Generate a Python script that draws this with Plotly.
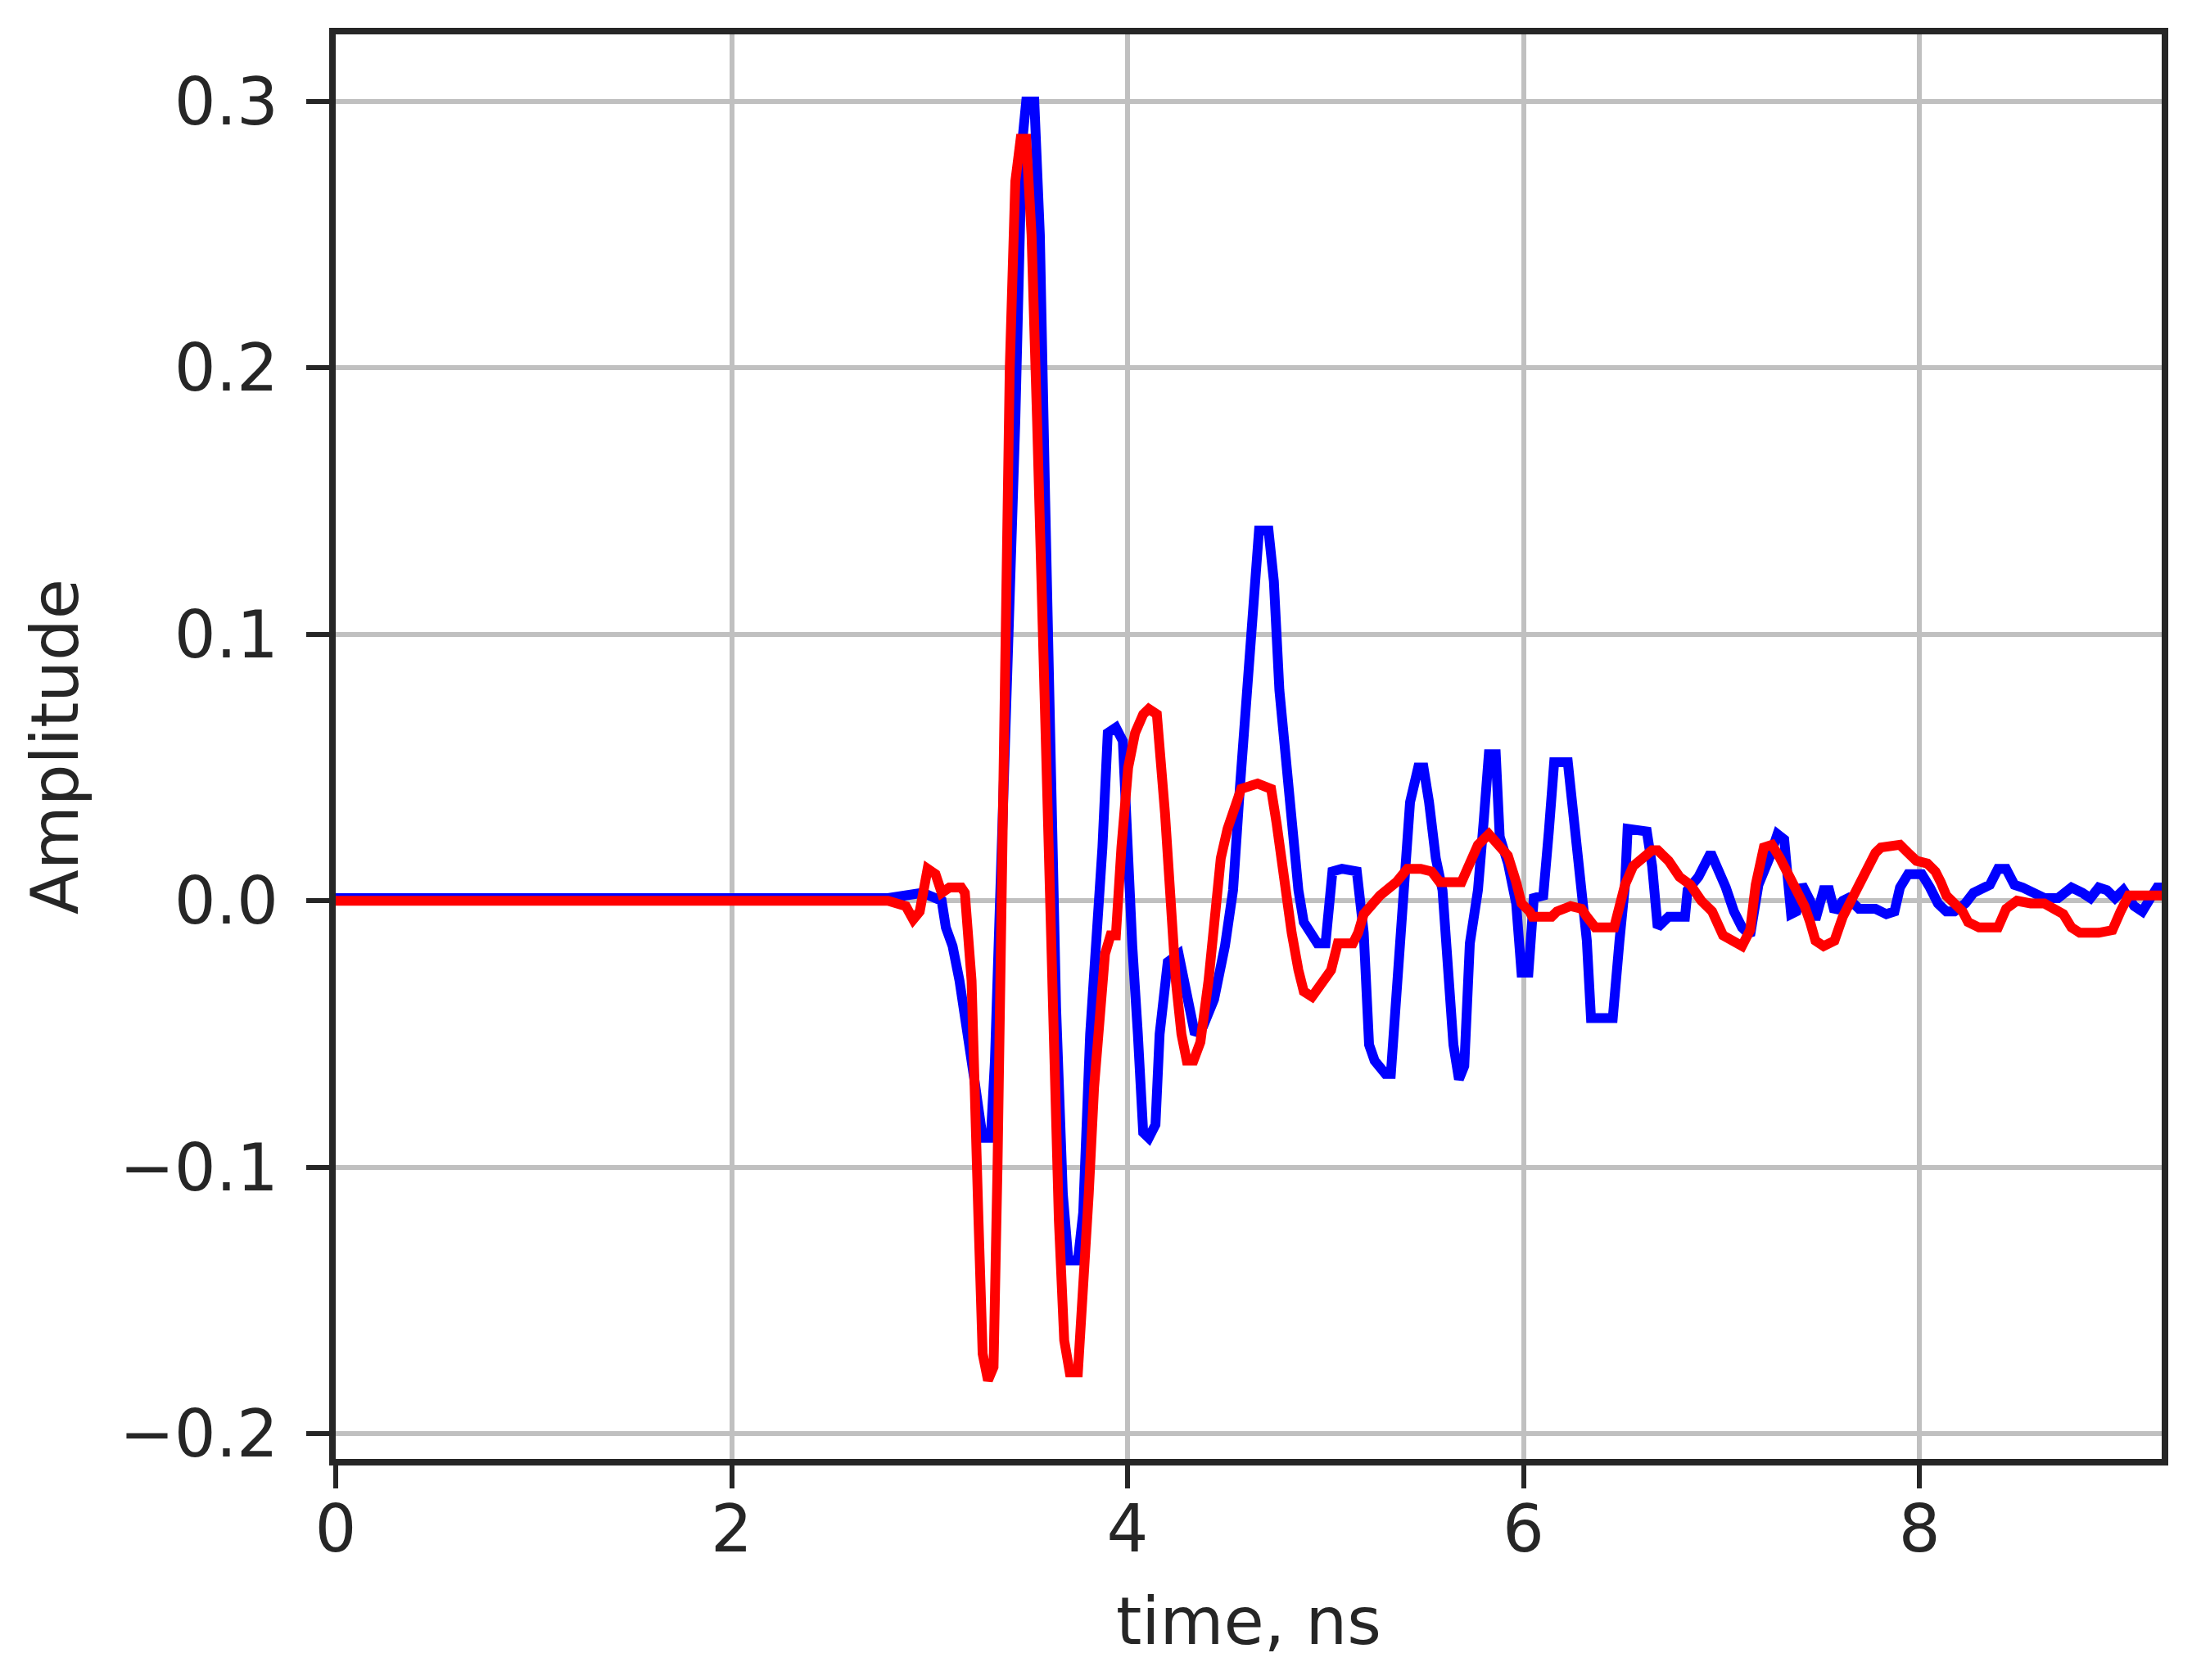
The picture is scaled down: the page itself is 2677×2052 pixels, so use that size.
import plotly.graph_objects as go

# ---- data (time in ns, amplitude) ----
blue_t = [0.0, 2.79, 2.965, 3.006, 3.061, 3.082, 3.116, 3.151, 3.185, 3.226, 3.268, 3.309, 3.330,
          3.364, 3.391, 3.433, 3.467, 3.488, 3.529, 3.557, 3.584, 3.611, 3.639, 3.673, 3.701, 3.749,
          3.776, 3.811, 3.845, 3.873, 3.900, 3.941, 3.976, 3.997, 4.024, 4.052, 4.079, 4.107, 4.141,
          4.162, 4.203, 4.258, 4.299, 4.340, 4.382, 4.437, 4.492, 4.533, 4.567, 4.602, 4.643, 4.664,
          4.712, 4.739, 4.767, 4.801, 4.835, 4.863, 4.890, 4.959, 5.000, 5.035, 5.083, 5.158, 5.193,
          5.220, 5.248, 5.303, 5.330, 5.365, 5.399, 5.427, 5.468, 5.495, 5.523, 5.557, 5.591, 5.619,
          5.646, 5.674, 5.701, 5.729, 5.770, 5.798, 5.825, 5.860, 5.880, 5.922, 5.963, 5.990, 6.025,
          6.052, 6.100, 6.128, 6.155, 6.224, 6.252, 6.293, 6.320, 6.341, 6.451, 6.485, 6.513, 6.526,
          6.623, 6.650, 6.678, 6.733, 6.816, 6.829, 6.884, 6.946, 6.980, 7.022, 7.063, 7.104, 7.145,
          7.187, 7.242, 7.283, 7.317, 7.338, 7.352, 7.379, 7.407, 7.448, 7.475, 7.516, 7.544, 7.571,
          7.613, 7.640, 7.695, 7.778, 7.833, 7.874, 7.902, 7.943, 8.012, 8.053, 8.094, 8.136, 8.177,
          8.232, 8.273, 8.356, 8.397, 8.438, 8.480, 8.521, 8.576, 8.631, 8.700, 8.768, 8.823, 8.864,
          8.906, 8.947, 8.988, 9.030, 9.085, 9.126, 9.167, 9.201, 9.229]
blue_v = [0.001, 0.001, 0.003, 0.002, 0.000, -0.010, -0.017, -0.030, -0.050, -0.067, -0.089, -0.089, -0.060,
          0.020, 0.060, 0.180, 0.284, 0.300, 0.300, 0.250, 0.150, 0.050, -0.040, -0.110, -0.135, -0.135,
          -0.117, -0.050, -0.017, 0.020, 0.063, 0.065, 0.060, 0.017, -0.017, -0.050, -0.087, -0.089, -0.084,
          -0.050, -0.023, -0.020, -0.033, -0.050, -0.047, -0.037, -0.017, 0.004, 0.042, 0.079, 0.128, 0.139,
          0.139, 0.120, 0.079, 0.049, 0.029, 0.004, -0.008, -0.016, -0.016, 0.011, 0.012, 0.011, -0.012,
          -0.054, -0.060, -0.065, -0.065, -0.029, 0.012, 0.037, 0.050, 0.050, 0.037, 0.016, 0.004, -0.029,
          -0.054, -0.067, -0.062, -0.016, 0.004, 0.029, 0.055, 0.055, 0.024, 0.014, -0.001, -0.027, -0.027,
          0.001, 0.002, 0.026, 0.052, 0.052, 0.031, 0.006, -0.015, -0.044, -0.044, -0.015, 0.006, 0.027,
          0.026, 0.013, -0.010, -0.006, -0.006, 0.004, 0.009, 0.018, 0.013, 0.005, -0.004, -0.010, -0.013,
          0.006, 0.016, 0.025, 0.023, 0.006, -0.005, -0.004, 0.006, 0.000, -0.007, 0.004, 0.004, -0.004,
          0.000, 0.001, -0.003, -0.003, -0.005, -0.004, 0.005, 0.010, 0.010, 0.005, -0.001, -0.004, -0.004,
          -0.001, 0.003, 0.006, 0.012, 0.012, 0.006, 0.005, 0.003, 0.001, 0.001, 0.005, 0.003, 0.001,
          0.005, 0.004, 0.001, 0.004, -0.002, -0.004, 0.001, 0.005, 0.005]

red_t = [0.0, 2.79, 2.88, 2.917, 2.95, 2.99, 3.03, 3.061, 3.10, 3.16, 3.178, 3.212, 3.247, 3.268, 3.295,
         3.323, 3.343, 3.364, 3.384, 3.405, 3.433, 3.460, 3.488, 3.515, 3.543, 3.570, 3.598, 3.625, 3.653,
         3.680, 3.708, 3.749, 3.776, 3.804, 3.831, 3.859, 3.886, 3.914, 3.941, 3.969, 4.003, 4.038, 4.079,
         4.107, 4.148, 4.189, 4.217, 4.244, 4.272, 4.299, 4.333, 4.368, 4.409, 4.451, 4.471, 4.505, 4.540,
         4.574, 4.657, 4.725, 4.753, 4.794, 4.829, 4.863, 4.890, 4.932, 4.973, 5.028, 5.062, 5.138, 5.165,
         5.193, 5.275, 5.358, 5.413, 5.481, 5.536, 5.577, 5.687, 5.729, 5.770, 5.825, 5.866, 5.921, 5.963,
         5.990, 6.031, 6.045, 6.142, 6.169, 6.238, 6.293, 6.320, 6.362, 6.458, 6.485, 6.513, 6.554, 6.596,
         6.650, 6.678, 6.733, 6.788, 6.843, 6.898, 6.953, 7.008, 7.049, 7.104, 7.145, 7.173, 7.214, 7.255,
         7.296, 7.338, 7.379, 7.420, 7.448, 7.475, 7.516, 7.571, 7.613, 7.654, 7.695, 7.737, 7.778, 7.806,
         7.902, 7.943, 7.985, 8.040, 8.081, 8.108, 8.136, 8.177, 8.218, 8.246, 8.301, 8.397, 8.438, 8.493,
         8.562, 8.631, 8.672, 8.727, 8.768, 8.810, 8.906, 8.975, 9.016, 9.057, 9.181, 9.229]
red_v = [0.000, 0.000, -0.002, -0.007, -0.004, 0.012, 0.010, 0.003, 0.005, 0.005, 0.003, -0.030, -0.120, -0.170, -0.180,
         -0.175, -0.100, 0.000, 0.100, 0.200, 0.270, 0.286, 0.286, 0.250, 0.180, 0.100, 0.020, -0.050, -0.120,
         -0.165, -0.177, -0.177, -0.150, -0.110, -0.070, -0.040, -0.020, -0.013, -0.013, 0.020, 0.050, 0.063, 0.070,
         0.072, 0.070, 0.033, 0.000, -0.030, -0.050, -0.060, -0.060, -0.053, -0.030, 0.003, 0.016, 0.027, 0.034,
         0.042, 0.044, 0.042, 0.029, 0.004, -0.012, -0.026, -0.034, -0.036, -0.031, -0.026, -0.016, -0.016, -0.012,
         -0.005, 0.002, 0.007, 0.012, 0.012, 0.011, 0.007, 0.007, 0.014, 0.021, 0.025, 0.021, 0.017, 0.007,
         -0.001, -0.004, -0.006, -0.006, -0.004, -0.002, -0.003, -0.006, -0.010, -0.010, -0.002, 0.006, 0.013, 0.016,
         0.019, 0.019, 0.015, 0.009, 0.006, 0.000, -0.004, -0.013, -0.015, -0.017, -0.011, 0.006, 0.020, 0.021,
         0.016, 0.010, 0.004, -0.002, -0.008, -0.015, -0.017, -0.015, -0.006, 0.000, 0.005, 0.011, 0.018, 0.020,
         0.021, 0.018, 0.015, 0.014, 0.011, 0.007, 0.002, -0.001, -0.004, -0.008, -0.010, -0.010, -0.003, 0.000,
         -0.001, -0.001, -0.003, -0.005, -0.010, -0.012, -0.012, -0.011, -0.004, 0.002, 0.002, 0.002]

x_ticks = [0, 2, 4, 6, 8]
x_tick_labels = ["0", "2", "4", "6", "8"]
y_ticks = [-0.2, -0.1, 0.0, 0.1, 0.2, 0.3]
y_tick_labels = ["\u22120.2", "\u22120.1", "0.0", "0.1", "0.2", "0.3"]

FONT = "DejaVu Sans"
DARK = "#262626"
GRID = "#c0c0c0"

fig = go.Figure()
fig.add_trace(go.Scatter(x=blue_t, y=blue_v, mode="lines",
                         line=dict(color="#0000ff", width=12), showlegend=False))
fig.add_trace(go.Scatter(x=red_t, y=red_v, mode="lines",
                         line=dict(color="#ff0000", width=12), showlegend=False))

axis_common = dict(
    showgrid=True, gridcolor=GRID, gridwidth=6.4,
    showline=True, linecolor=DARK, linewidth=8, mirror=True,
    ticks="outside", ticklen=28, tickwidth=6.4, tickcolor=DARK,
    tickfont=dict(family=FONT, size=80, color=DARK),
    zeroline=False,
)

fig.update_layout(
    width=2677, height=2052,
    margin=dict(l=402, r=45, t=34, b=278),
    paper_bgcolor="white", plot_bgcolor="white",
    font=dict(family=FONT, color=DARK),
    xaxis=dict(range=[0, 9.224], tickmode="array", tickvals=x_ticks, ticktext=x_tick_labels,
               ticklabelstandoff=-19,
               title=dict(text="time, ns", font=dict(family=FONT, size=80, color=DARK), standoff=42),
               **axis_common),
    yaxis=dict(range=[-0.2095, 0.3252], tickmode="array", tickvals=y_ticks, ticktext=y_tick_labels,
               ticklabelstandoff=18,
               title=dict(text="Amplitude", font=dict(family=FONT, size=80, color=DARK), standoff=27),
               **axis_common),
)

fig.write_html("out.html")
